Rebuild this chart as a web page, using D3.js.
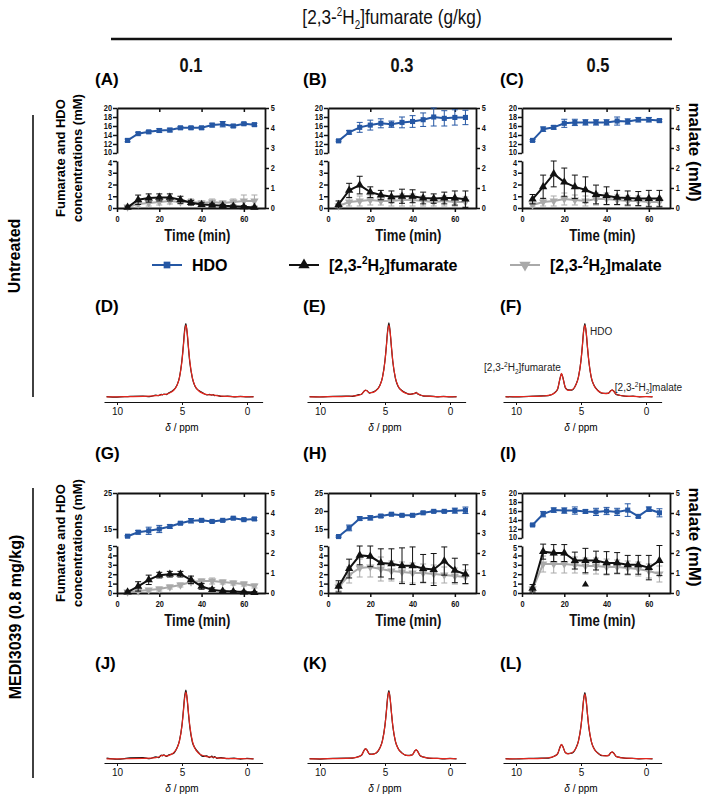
<!DOCTYPE html>
<html><head><meta charset="utf-8">
<script src="https://cdn.jsdelivr.net/npm/d3@7"></script>
<style>
body{margin:0;background:#fff}
svg{display:block}
</style></head><body><svg id="c" width="709" height="799"></svg>
<script>
// ---------- DATA ----------
const time = [5,10,15,20,25,30,35,40,45,50,55,60,65];
const xTicks = [0,20,40,60];
const rightTicks = [0,1,2,3,4,5];

const hdoA = [12.8,14.3,14.7,15.0,15.1,15.6,15.6,15.6,16.2,16.4,16.0,16.5,16.3];
const hdoAErr = [0.3,0.3,0.3,0.4,0.4,0.3,0.3,0.3,0.4,0.6,0.3,0.3,0.3];
const fumA = [0.05,0.7,0.85,0.9,0.9,0.7,0.45,0.3,0.25,0.2,0.15,0.1,0.05];
const fumAErr = [0.1,0.4,0.35,0.3,0.3,0.3,0.2,0.15,0.15,0.1,0.1,0.1,0.1];
const malA = [0.05,0.2,0.25,0.3,0.35,0.3,0.3,0.25,0.3,0.25,0.3,0.35,0.35];
const malAErr = [0.05,0.15,0.15,0.15,0.15,0.1,0.15,0.1,0.15,0.1,0.15,0.3,0.3];

const hdoB = [12.7,14.6,15.7,16.2,16.6,16.4,16.8,17.0,17.4,18.0,17.7,17.9,17.9];
const hdoBErr = [0.2,0.4,1.1,1.1,1.0,0.7,1.2,1.3,1.5,2.0,1.7,1.7,1.6];
const fumB = [0.3,1.5,1.95,1.35,1.1,0.95,1.0,1.0,0.85,0.8,0.85,0.85,0.75];
const fumBErr = [0.3,0.6,0.75,0.45,0.4,0.5,0.6,0.55,0.5,0.4,0.5,0.6,0.7];
const malB = [0.1,0.3,0.35,0.4,0.35,0.35,0.4,0.4,0.35,0.3,0.35,0.3,0.3];
const malBErr = [0.1,0.2,0.25,0.25,0.2,0.25,0.3,0.3,0.25,0.2,0.25,0.2,0.25];

const hdoC = [12.8,15.3,15.7,16.6,16.8,16.8,16.8,16.8,17.1,17.0,17.4,17.4,17.2];
const hdoCErr = [0.2,0.5,0.4,0.9,0.7,0.6,0.6,0.6,0.9,0.6,0.5,0.5,0.3];
const fumC = [0.75,1.8,2.9,2.2,1.8,1.55,1.15,1.05,0.9,0.85,0.8,0.8,0.8];
const fumCErr = [0.4,1.0,1.1,1.2,1.0,1.1,0.8,0.75,0.6,0.6,0.6,0.7,0.7];
const malC = [0.15,0.3,0.35,0.45,0.4,0.35,0.45,0.45,0.4,0.35,0.35,0.3,0.3];
const malCErr = [0.1,0.2,0.25,0.3,0.25,0.25,0.3,0.3,0.25,0.25,0.25,0.2,0.2];

const hdoG = [13.0,14.1,14.5,15.0,15.7,16.6,17.3,17.4,17.1,17.4,18.0,17.6,17.8];
const hdoGErr = [0.2,0.5,1.0,1.0,0.5,0.3,0.6,0.3,0.3,0.3,0.3,0.3,0.4];
const fumG = [0.1,0.7,1.4,1.9,2.0,2.0,1.4,0.7,0.35,0.2,0.15,0.1,0.05];
const fumGErr = [0.1,0.5,0.5,0.3,0.3,0.3,0.4,0.3,0.2,0.1,0.1,0.1,0.1];
const malG = [0.05,0.1,0.15,0.2,0.3,0.4,0.55,0.6,0.6,0.55,0.5,0.45,0.35];
const malGErr = [0.05,0.05,0.05,0.1,0.1,0.1,0.1,0.1,0.15,0.1,0.1,0.1,0.1];

const hdoH = [12.9,15.3,17.9,18.1,18.6,19.1,18.8,18.8,19.5,19.9,19.9,20.1,20.2];
const hdoHErr = [0.2,0.8,0.5,0.6,0.4,0.3,0.3,0.3,0.3,0.3,0.3,0.7,0.9];
const fumH = [0.7,2.6,4.0,3.9,3.2,3.1,2.9,2.9,2.6,2.5,3.4,2.4,2.0];
const fumHErr = [0.6,1.0,1.0,1.1,1.5,1.6,1.9,2.0,1.5,1.7,1.5,1.3,1.0];
const malH = [0.3,0.9,1.25,1.3,1.2,1.1,1.05,1.0,1.0,0.95,0.9,0.85,0.8];
const malHErr = [0.2,0.4,0.45,0.5,0.6,0.5,0.5,0.5,0.45,0.45,0.4,0.4,0.35];

const hdoI = [12.9,15.3,16.2,16.1,16.1,15.9,15.8,16.0,15.8,16.2,14.8,16.4,15.6];
const hdoIErr = [0.2,0.6,0.5,0.6,0.8,0.4,0.8,0.8,0.8,1.4,0.3,0.5,0.9];
const fumI = [0.5,4.4,4.25,4.25,3.45,3.45,3.45,3.2,3.2,3.0,3.0,2.7,3.45];
const fumIErr = [0.4,0.8,0.9,0.9,0.9,1.3,1.0,1.2,1.1,1.0,1.0,1.3,1.6];
const malI = [0.2,1.45,1.45,1.45,1.4,1.35,1.35,1.3,1.3,1.25,1.2,1.1,0.95];
const malIErr = [0.1,0.4,0.45,0.45,0.4,0.4,0.4,0.4,0.35,0.35,0.35,0.35,0.4];
const strayI = [[30, 0.9]];

const upTicks10 = [10,12,14,16,18,20];
const upTicksG = [15,25];
const upTicksH = [15,20,25];
const lowTicks4 = [0,1,2,3,4];
const lowTicks5 = [0,1,2,3,4,5];

// spectra (relative intensity on a shared ppm grid)
const ppm = [10.8,10,9,8,7.5,7,6.8,6.6,6.5,6.4,6.2,6,5.7,5.4,5.2,5,4.9,4.8,4.7,4.6,4.5,4.4,4.2,4,3.7,3.4,3.1,2.9,2.7,2.6,2.5,2.3,2,1.5,1,0.5,0,-0.5];
const specDred = [.002,.003,.005,.008,.011,.018,.022,.03,.035,.035,.04,.052,.083,.155,.265,.5,.69,.9,1,.9,.69,.5,.265,.155,.083,.051,.035,.03,.03,.028,.025,.018,.013,.009,.006,.005,.004,.003];
const specDblack = [.006,-.002,.01,.014,.004,.025,.018,.036,.03,.042,.034,.058,.09,.16,.27,.52,.71,.93,1.02,.88,.67,.48,.26,.15,.09,.06,.028,.036,.025,.034,.02,.022,.008,.013,.002,.009,.001,.005];
const specEred = [.002,.003,.005,.009,.014,.027,.042,.08,.097,.086,.06,.061,.087,.157,.265,.5,.69,.9,1,.9,.69,.5,.266,.156,.084,.053,.04,.039,.054,.06,.05,.027,.016,.01,.006,.005,.004,.003];
const specEblack = [.005,0,.009,.013,.01,.032,.038,.085,.092,.09,.055,.066,.092,.16,.27,.51,.7,.92,1.03,.89,.68,.49,.26,.15,.09,.058,.036,.044,.05,.064,.046,.03,.012,.013,.003,.008,.002,.005];
const specFred = [.003,.004,.007,.013,.022,.059,.113,.264,.327,.27,.131,.093,.101,.165,.272,.505,.695,.904,1,.903,.693,.504,.268,.159,.087,.057,.046,.053,.087,.101,.083,.04,.021,.012,.008,.006,.005,.004];
const specFblack = [.006,0,.01,.016,.018,.064,.108,.27,.32,.276,.126,.098,.096,.17,.276,.51,.7,.92,1.02,.89,.68,.5,.262,.162,.092,.052,.05,.049,.09,.097,.086,.036,.024,.009,.011,.003,.007,.002];
const specJred = [.002,.003,.005,.009,.012,.021,.029,.048,.057,.054,.047,.055,.085,.156,.265,.5,.69,.9,1,.9,.69,.5,.265,.155,.083,.052,.036,.031,.03,.029,.026,.018,.013,.009,.006,.005,.004,.003];
const specJblack = [.012,-.004,.016,.022,.004,.032,.02,.058,.048,.062,.038,.064,.078,.162,.27,.51,.71,.93,1.03,.88,.67,.48,.25,.162,.092,.04,.048,.022,.042,.018,.034,.01,.022,.004,.012,-.002,.009,.002];
const specKred = [.002,.003,.006,.01,.016,.035,.06,.128,.157,.134,.078,.069,.091,.159,.268,.502,.69,.9,1,.9,.69,.5,.268,.158,.088,.059,.051,.065,.118,.14,.114,.053,.024,.013,.008,.006,.005,.004];
const specKblack = [.006,-.001,.01,.014,.012,.04,.056,.134,.15,.14,.072,.074,.086,.164,.274,.51,.7,.92,1.02,.89,.68,.49,.262,.162,.092,.054,.056,.06,.124,.134,.12,.048,.028,.01,.011,.003,.008,.002];
const specLred = [.002,.004,.006,.011,.019,.045,.082,.184,.227,.19,.1,.079,.095,.161,.27,.503,.693,.903,1,.9,.69,.5,.268,.158,.087,.057,.047,.055,.095,.111,.091,.043,.021,.012,.008,.006,.005,.004];
const specLblack = [.005,0,.01,.015,.015,.05,.078,.19,.22,.196,.095,.084,.09,.166,.276,.51,.7,.92,1.02,.89,.68,.49,.262,.162,.092,.052,.052,.05,.1,.106,.096,.038,.025,.009,.011,.003,.008,.002];
const ppmTicks = [10,5,0];

// ---------- STYLE ----------
const BLUE = "#2557a4", BLACK = "#111", GRAY = "#a9a9a9", RED = "#e3261d";
const SANS = "'Liberation Sans',Arial,sans-serif";
const NX = 0.82; // horizontal condensation for the narrow face

const svg = d3.select("#c");

function narrow(x, y, size, anchor, bold){
  return svg.append("text").attr("transform",`translate(${x},${y}) scale(${NX},1)`).attr("text-anchor",anchor)
    .attr("font-family",SANS).attr("font-weight",bold?"bold":"normal").attr("font-size",size).attr("fill","#111");
}

// header
const hdr = narrow(392, 24, 21, "middle", false);
hdr.append("tspan").text("[2,3-");
hdr.append("tspan").attr("font-size",12).attr("dy",-8).text("2");
hdr.append("tspan").attr("dy",8).text("H");
hdr.append("tspan").attr("font-size",12).attr("dy",5).text("2");
hdr.append("tspan").attr("dy",-5).text("]fumarate (g/kg)");
svg.append("line").attr("x1",111).attr("x2",672).attr("y1",39).attr("y2",39).attr("stroke","#111").attr("stroke-width",2.3);

const colCenter = [191, 402, 598];
["0.1","0.3","0.5"].forEach((t,i)=>narrow(colCenter[i], 72, 20, "middle", true).text(t));

// row labels
function rowLabel(txt, cx, cy, y1, y2){
  svg.append("text").attr("transform",`translate(${cx},${cy}) rotate(-90)`).attr("text-anchor","middle")
    .attr("dominant-baseline","central").attr("font-family",SANS).attr("font-weight","bold").attr("font-size",16).text(txt);
  svg.append("line").attr("x1",33).attr("x2",33).attr("y1",y1).attr("y2",y2).attr("stroke","#111").attr("stroke-width",1.6);
}
rowLabel("Untreated", 14, 256, 115, 397);
rowLabel("MEDI3039 (0.8 mg/kg)", 15, 617, 488, 778);

// panel labels
const panelX = [95, 303, 500];
function panelLabel(t, col, y){
  svg.append("text").attr("x",panelX[col]).attr("y",y).attr("font-family",SANS).attr("font-weight","bold")
    .attr("font-size",17).text(t);
}
["(A)","(B)","(C)"].forEach((t,i)=>panelLabel(t,i,85));
["(D)","(E)","(F)"].forEach((t,i)=>panelLabel(t,i,312));
["(G)","(H)","(I)"].forEach((t,i)=>panelLabel(t,i,459));
["(J)","(K)","(L)"].forEach((t,i)=>panelLabel(t,i,669));

// ---------- CHARTS ----------
const colX = [[117,265],[328,476],[522,670]];
function styleAxis(g, shift){
  g.selectAll(".domain").attr("stroke","#111").attr("stroke-width",1.8);
  g.selectAll(".tick line").attr("stroke","#111").attr("stroke-width",1.5);
  g.selectAll(".tick text").attr("font-family",SANS).attr("font-weight","bold").attr("font-size",9).attr("fill","#111")
    .attr("transform",`translate(0,${shift||0}) scale(${NX},1)`);
}
function series(g, x, y, vals, errs, color, sym, rot){
  const pts = time.map((t,i)=>({t, v:vals[i], e:errs[i]}));
  const eb = g.append("g").attr("stroke",color).attr("stroke-width",1);
  pts.forEach(d=>{
    const xx = x(d.t);
    eb.append("line").attr("x1",xx).attr("x2",xx).attr("y1",y(d.v-d.e)).attr("y2",y(d.v+d.e));
    eb.append("line").attr("x1",xx-3).attr("x2",xx+3).attr("y1",y(d.v+d.e)).attr("y2",y(d.v+d.e));
    eb.append("line").attr("x1",xx-3).attr("x2",xx+3).attr("y1",y(d.v-d.e)).attr("y2",y(d.v-d.e));
  });
  g.append("path").datum(pts).attr("fill","none").attr("stroke",color).attr("stroke-width",2)
    .attr("d", d3.line().x(d=>x(d.t)).y(d=>y(d.v)));
  g.selectAll(null).data(pts).join("path")
    .attr("transform",d=>`translate(${x(d.t)},${y(d.v)}) rotate(${rot})`)
    .attr("d", d3.symbol().type(sym).size(sym===d3.symbolSquare?26:30)).attr("fill",color);
}
const fmt = d3.format("d");
function chart(p){
  const g = svg.append("g");
  const [x0,x1] = colX[p.col];
  const x = d3.scaleLinear().domain([0,70]).range([x0,x1]);
  const yU = d3.scaleLinear().domain(p.upDomain).range([p.upBot,p.top]);
  const yL = d3.scaleLinear().domain([0,p.lowMax]).range([p.bot,p.lowTop]);
  const yR = d3.scaleLinear().domain([0,5]).range([p.bot,p.top]);
  const aU = g.append("g").attr("transform",`translate(${x0},0)`).call(d3.axisLeft(yU).tickValues(p.upTicks).tickFormat(fmt).tickSize(4).tickSizeOuter(0).tickPadding(2));
  styleAxis(aU);
  aU.selectAll(".tick text").filter(d=>d===p.upDomain[0]).attr("transform",`translate(0,-1.5) scale(${NX},1)`);
  const aL = g.append("g").attr("transform",`translate(${x0},0)`).call(d3.axisLeft(yL).tickValues(p.lowTicks).tickFormat(fmt).tickSize(4).tickSizeOuter(0).tickPadding(2));
  styleAxis(aL);
  aL.selectAll(".tick text").filter(d=>d===p.lowMax).attr("transform",`translate(0,1.5) scale(${NX},1)`);
  styleAxis(g.append("g").attr("transform",`translate(${x1},0)`).call(d3.axisRight(yR).tickValues(rightTicks).tickFormat(fmt).tickSize(4).tickSizeOuter(0).tickPadding(3)));
  styleAxis(g.append("g").attr("transform",`translate(0,${p.bot})`).call(d3.axisBottom(x).tickValues(xTicks).tickFormat(fmt).tickSize(4).tickSizeOuter(0).tickPadding(4)));
  styleAxis(g.append("g").attr("transform",`translate(0,${p.top})`).call(d3.axisBottom(x).tickValues([20,40,60]).tickSize(4).tickSizeOuter(0).tickFormat("")));
  narrow(x(38), p.bot+33, 16, "middle", true).text("Time (min)");
  series(g, x, yR, p.mal, p.malErr, GRAY, d3.symbolTriangle, 180);
  series(g, x, yL, p.fum, p.fumErr, BLACK, d3.symbolTriangle, 0);
  series(g, x, yU, p.hdo, p.hdoErr, BLUE, d3.symbolSquare, 0);
  if (p.stray) g.selectAll(null).data(p.stray).join("path")
    .attr("transform",d=>`translate(${x(d[0])},${yL(d[1])})`).attr("d",d3.symbol().type(d3.symbolTriangle).size(22)).attr("fill",BLACK);
  if (p.leftTitle){
    const t = g.append("text").attr("transform",`translate(0,${(p.top+p.bot)/2}) rotate(-90)`).attr("text-anchor","middle")
      .attr("font-family",SANS).attr("font-weight","bold").attr("font-size",13);
    t.append("tspan").attr("x",0).attr("y",65).text("Fumarate and HDO");
    t.append("tspan").attr("x",0).attr("y",82).text("concentrations (mM)");
  }
  if (p.rightTitle){
    g.append("text").attr("transform",`translate(694,${(p.top+p.bot)/2-6}) rotate(90)`).attr("text-anchor","middle")
      .attr("dominant-baseline","central").attr("font-family",SANS).attr("font-weight","bold").attr("font-size",17).text("malate (mM)");
  }
}
const row1 = {top:108, upBot:153, lowTop:161, bot:208, upDomain:[10,20], upTicks:upTicks10, lowMax:4, lowTicks:lowTicks4};
const row3 = {top:493, upBot:538, lowTop:546, bot:593, lowMax:5, lowTicks:lowTicks5};
chart({...row1, col:0, hdo:hdoA, hdoErr:hdoAErr, fum:fumA, fumErr:fumAErr, mal:malA, malErr:malAErr, leftTitle:true});
chart({...row1, col:1, hdo:hdoB, hdoErr:hdoBErr, fum:fumB, fumErr:fumBErr, mal:malB, malErr:malBErr});
chart({...row1, col:2, hdo:hdoC, hdoErr:hdoCErr, fum:fumC, fumErr:fumCErr, mal:malC, malErr:malCErr, rightTitle:true});
chart({...row3, col:0, upDomain:[12.5,25], upTicks:upTicksG, hdo:hdoG, hdoErr:hdoGErr, fum:fumG, fumErr:fumGErr, mal:malG, malErr:malGErr, leftTitle:true});
chart({...row3, col:1, upDomain:[12.5,25], upTicks:upTicksH, hdo:hdoH, hdoErr:hdoHErr, fum:fumH, fumErr:fumHErr, mal:malH, malErr:malHErr});
chart({...row3, col:2, upDomain:[10,20], upTicks:upTicks10, hdo:hdoI, hdoErr:hdoIErr, fum:fumI, fumErr:fumIErr, mal:malI, malErr:malIErr, rightTitle:true, stray:strayI});

// ---------- LEGEND ----------
const legY = 265;
function legItem(x, color, sym, rot, parts){
  svg.append("line").attr("x1",x-15).attr("x2",x+15).attr("y1",legY).attr("y2",legY).attr("stroke",color).attr("stroke-width",2);
  svg.append("path").attr("transform",`translate(${x},${legY}) rotate(${rot})`).attr("d",d3.symbol().type(sym).size(sym===d3.symbolSquare?45:55)).attr("fill",color);
  const t = svg.append("text").attr("x",x+25).attr("y",legY+6).attr("font-family",SANS).attr("font-weight","bold").attr("font-size",16);
  parts(t);
}
function labelParts(name){ return t=>{
  t.append("tspan").text("[2,3-");
  t.append("tspan").attr("font-size",10).attr("dy",-7).text("2");
  t.append("tspan").attr("dy",7).text("H");
  t.append("tspan").attr("font-size",10).attr("dy",4).text("2");
  t.append("tspan").attr("dy",-4).text("]"+name);
};}
legItem(167, BLUE, d3.symbolSquare, 0, t=>t.text("HDO"));
legItem(304, BLACK, d3.symbolTriangle, 0, labelParts("fumarate"));
legItem(525, GRAY, d3.symbolTriangle, 180, labelParts("malate"));

// ---------- SPECTRA ----------
const specX10 = [117, 320, 516];
function spectrum(col, axisY, y0, y1, black, red){
  const x10 = specX10[col];
  const x = d3.scaleLinear().domain([11,-1.2]).range([x10-13, x10+11.2*13]);
  const y = d3.scaleLinear().domain([0,1]).range([y0,y1]);
  const g = svg.append("g");
  const ax = g.append("g").attr("transform",`translate(0,${axisY})`).call(d3.axisBottom(x).tickValues(ppmTicks).tickSize(3).tickSizeOuter(0).tickPadding(3));
  ax.selectAll(".domain").attr("stroke","#111").attr("stroke-width",1.1);
  ax.selectAll(".tick line").attr("stroke","#111").attr("stroke-width",1);
  ax.selectAll(".tick text").attr("font-family",SANS).attr("font-size",10).attr("fill","#111");
  const lbl = g.append("text").attr("x",x(5)).attr("y",axisY+29).attr("text-anchor","middle").attr("font-family",SANS).attr("font-size",10);
  lbl.append("tspan").attr("font-style","italic").text("δ");
  lbl.append("tspan").text(" / ppm");
  const line = d3.line().x((d,i)=>x(ppm[i])).y(d=>y(d)).curve(d3.curveMonotoneX);
  g.append("path").datum(black).attr("fill","none").attr("stroke","#111").attr("stroke-width",1.2).attr("d",line);
  g.append("path").datum(red).attr("fill","none").attr("stroke",RED).attr("stroke-width",1.2).attr("d",line);
  return {x,y,g};
}
spectrum(0, 402, 397, 325, specDblack, specDred);
spectrum(1, 402, 397, 325, specEblack, specEred);
const sf = spectrum(2, 402, 397, 325, specFblack, specFred);
spectrum(0, 763, 759, 692, specJblack, specJred);
spectrum(1, 763, 759, 692, specKblack, specKred);
spectrum(2, 763, 759, 694, specLblack, specLred);

// annotations on F
function ann(txt, xx, yy, anchor, parts){
  const t = sf.g.append("text").attr("x",xx).attr("y",yy).attr("text-anchor",anchor).attr("font-family",SANS).attr("font-size",10).attr("fill","#222");
  if (parts) { t.append("tspan").text("[2,3-");
    t.append("tspan").attr("font-size",6.5).attr("dy",-4).text("2");
    t.append("tspan").attr("dy",4).text("H");
    t.append("tspan").attr("font-size",6.5).attr("dy",3).text("2");
    t.append("tspan").attr("dy",-3).text("]"+txt);
  } else t.text(txt);
}
ann("HDO", sf.x(4.3), sf.y(0.86), "start", false);
ann("fumarate", sf.x(6.55), sf.y(0.36), "end", true);
ann("malate", sf.x(2.4), sf.y(0.09), "start", true);
</script></body></html>
